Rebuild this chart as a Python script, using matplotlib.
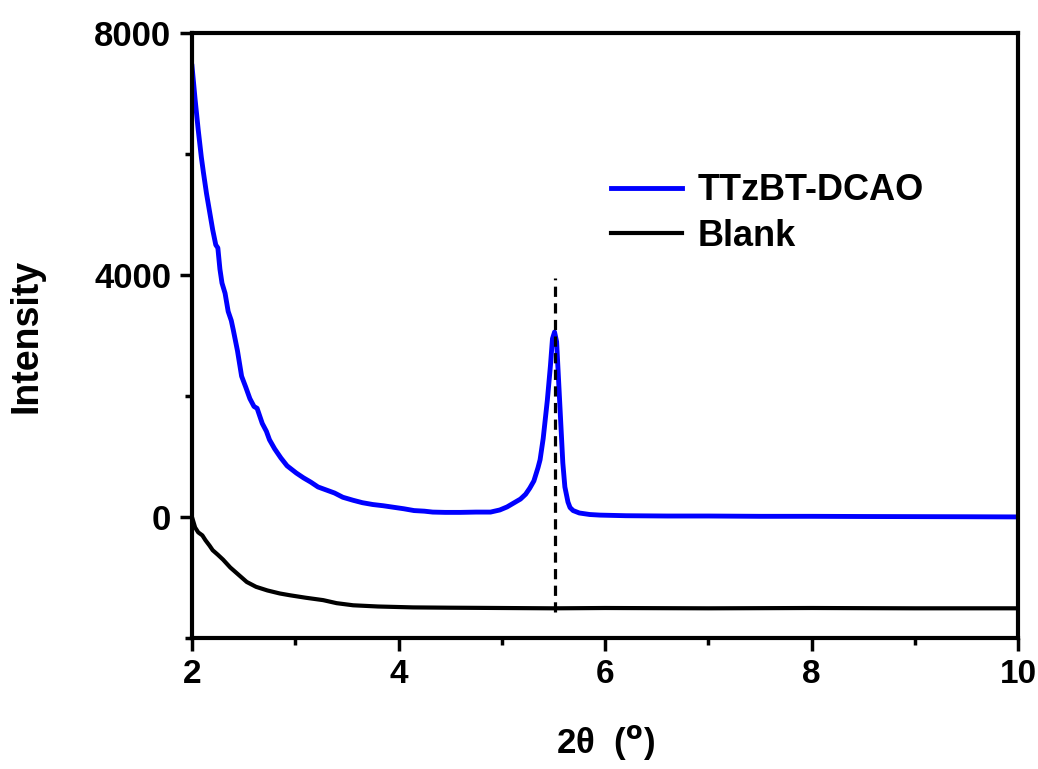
import matplotlib
matplotlib.use("Agg")
import matplotlib.pyplot as plt

# XRD data
ttzbt_x = [2.00, 2.03, 2.06, 2.09, 2.11, 2.14, 2.17, 2.20, 2.23, 2.25, 2.27, 2.29, 2.32, 2.35,
           2.38, 2.40, 2.44, 2.48, 2.52, 2.56, 2.60, 2.63, 2.68, 2.72, 2.75, 2.80, 2.86, 2.92,
           3.01, 3.08, 3.15, 3.22, 3.30, 3.38, 3.46, 3.56, 3.65, 3.75, 3.85, 3.95, 4.05, 4.15,
           4.25, 4.33, 4.45, 4.60, 4.75, 4.89, 4.98, 5.05, 5.11, 5.18, 5.23, 5.27, 5.31, 5.35,
           5.37, 5.40, 5.44, 5.47, 5.49, 5.51, 5.53, 5.56, 5.59, 5.61, 5.64, 5.66, 5.69, 5.75,
           5.85, 5.95, 6.2, 6.6, 7.0, 7.5, 8.0, 8.5, 9.0, 9.5, 10.0]
ttzbt_y = [7450, 6900, 6400, 5950, 5700, 5350, 5050, 4750, 4500, 4450, 4100, 3870, 3700, 3400,
           3250, 3090, 2750, 2330, 2150, 1960, 1830, 1800, 1550, 1420, 1280, 1130, 980, 850,
           730, 650, 580, 500, 450, 400, 330, 280, 240, 210, 190, 165, 140, 110,
           100, 85, 80, 80, 85, 85, 120, 170, 230, 300, 380, 480, 600, 820,
           950, 1300, 1930, 2500, 2950, 3060, 2900, 1900, 900, 500, 250, 160, 110, 70,
           45, 35, 25, 20, 20, 15, 15, 12, 10, 8, 5]

blank_x = [2.00, 2.03, 2.06, 2.10, 2.13, 2.17, 2.20, 2.25, 2.30, 2.37, 2.45, 2.53, 2.62, 2.73,
           2.85, 2.95, 3.10, 3.27, 3.40, 3.56, 3.80, 4.14, 4.5, 5.0, 5.5, 6.0, 7.0, 8.0, 9.0, 10.0]
blank_y = [0, -170, -250, -300, -380, -470, -545, -620, -700, -830, -950, -1070, -1150, -1210,
           -1260, -1290, -1330, -1370, -1420, -1455, -1475, -1490, -1495, -1500, -1505, -1500,
           -1505, -1500, -1505, -1505]

peak_pos = 5.51
peak_line = [-1560, 3950]

plt.rcParams['font.family'] = ['Liberation Sans', 'DejaVu Sans']
plt.rcParams['font.weight'] = 'bold'

fig = plt.figure(figsize=(10.38, 7.69), dpi=100)
ax = fig.add_axes([0.185, 0.170, 0.796, 0.787])

ax.plot(ttzbt_x, ttzbt_y, color='#0000ff', lw=3.5, label='TTzBT-DCAO')
ax.plot(blank_x, blank_y, color='black', lw=3, label='Blank')
ax.plot([peak_pos, peak_pos], peak_line, color='black', lw=2.3, ls=(0, (3.2, 2)))

ax.set_xlim(2, 10)
ax.set_ylim(-2000, 8000)
ax.set_xticks([2, 4, 6, 8, 10])
ax.set_xticks([3, 5, 7, 9], minor=True)
ax.set_yticks([0, 4000, 8000])
ax.set_yticks([-2000, 2000, 6000], minor=True)

for s in ax.spines.values():
    s.set_linewidth(3)
ax.tick_params(which='major', direction='out', length=9, width=2.5, pad=6)
ax.tick_params(which='minor', direction='out', length=5, width=2.5)
ax.tick_params(axis='x', labelsize=24)
ax.tick_params(axis='y', labelsize=25)
for lab in ax.get_xticklabels() + ax.get_yticklabels():
    lab.set_fontweight('bold')

ax.set_xlabel(r'2θ  ($^{\mathbf{o}}$)', fontsize=25, fontweight='bold', labelpad=24)
ax.set_ylabel('Intensity', fontsize=27, fontweight='bold', labelpad=36)

leg = ax.legend(loc='upper left', bbox_to_anchor=(0.468, 0.822), frameon=False, fontsize=26,
                handlelength=1.95, handletextpad=0.45, labelspacing=0.3)
for t in leg.get_texts():
    t.set_fontweight('bold')

fig.savefig('out.png', dpi=100)
